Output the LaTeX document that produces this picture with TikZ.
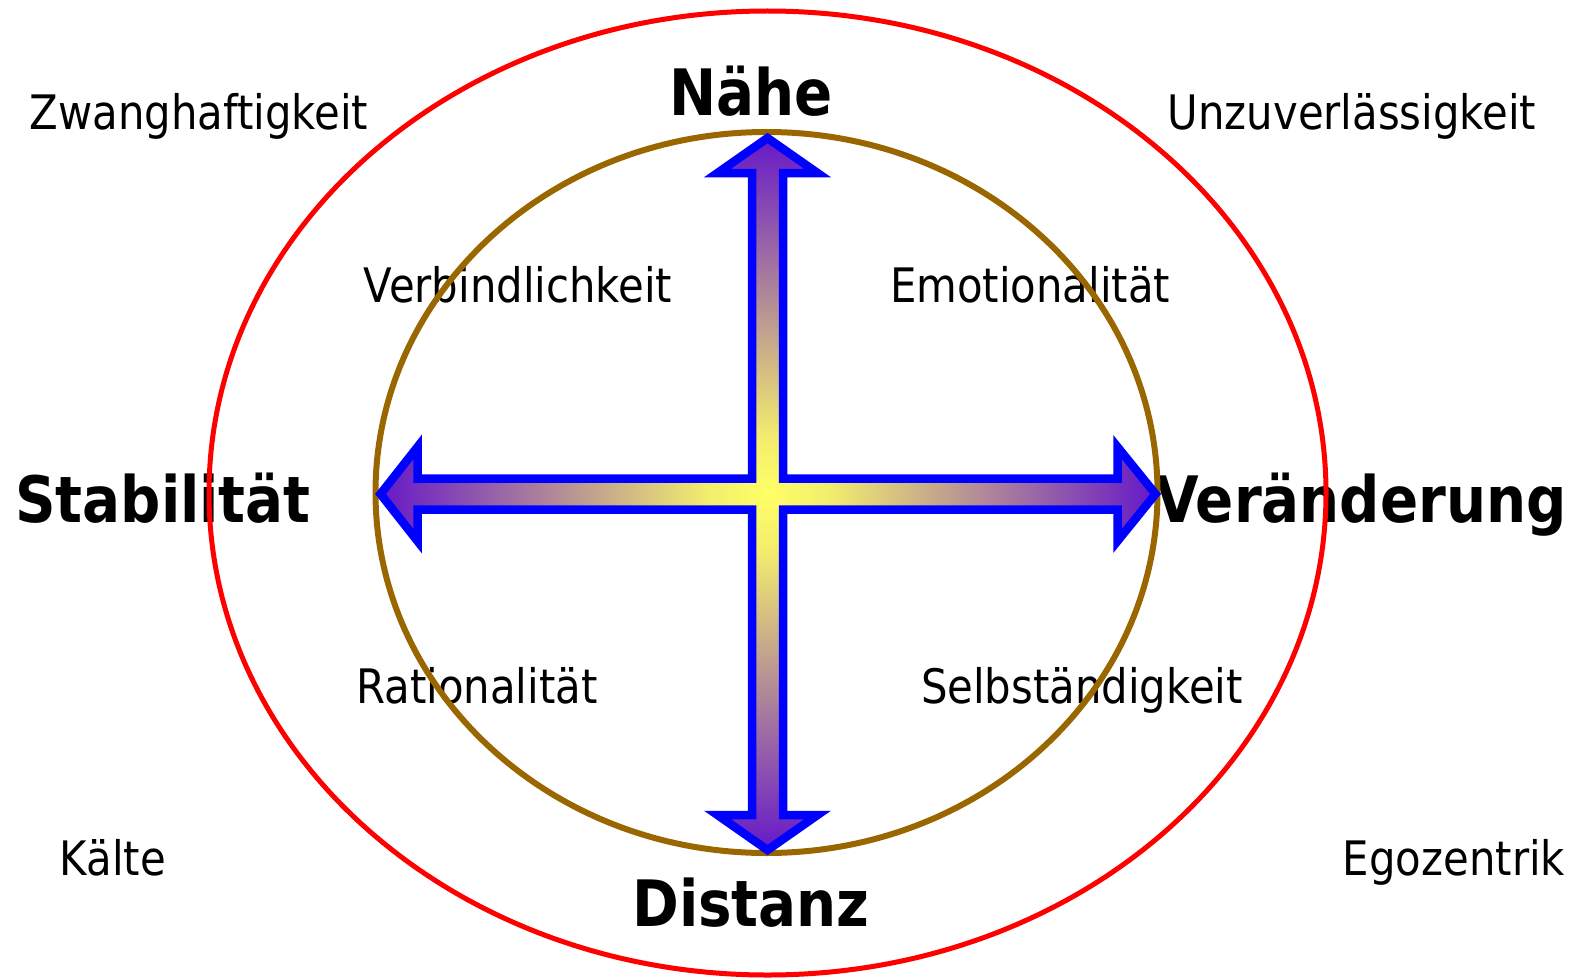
\documentclass[tikz,border=0pt]{standalone}
\usepackage{fontspec}
\setmainfont{DejaVu Sans}[FakeStretch=0.88]
\definecolor{redline}{RGB}{255,0,0}
\definecolor{brownline}{RGB}{153,102,0}
\definecolor{arrowblue}{RGB}{0,0,255}
\definecolor{shadeyellow}{RGB}{255,255,102}
\definecolor{shadepurple}{RGB}{102,24,200}
\pgfdeclareradialshading{crossshade}{\pgfpoint{0bp}{0bp}}{color(0bp)=(shadeyellow); color(4bp)=(shadeyellow!92!shadepurple); color(25bp)=(shadepurple); color(50bp)=(shadepurple)}
\tikzset{
  lbl/.style={anchor=base, inner sep=0pt, font=\fontsize{47.5}{52}\selectfont},
  biglbl/.style={anchor=base, inner sep=0pt, font=\fontsize{64}{70}\selectfont\bfseries},
  outerring/.style={draw=redline, line width=5},
  innerring/.style={draw=brownline, line width=6},
  crossarrow/.style={shading=crossshade, draw=arrowblue, line width=8.5}
}
\begin{document}
\begin{tikzpicture}[x=1pt,y=-1pt]
\useasboundingbox (0,0) rectangle (1576,979);
% labels
\node[biglbl] (naehe) at (751,116) {Nähe};
\node[biglbl] (distanz) at (751,926) {Distanz};
\node[biglbl] (stab) at (163,522) {Stabilität};
\node[biglbl] (veraend) at (1361,522) {Veränderung};
\node[lbl] (zwang) at (199,129) {Zwanghaftigkeit};
\node[lbl] (unzu) at (1352,129) {Unzuverlässigkeit};
\node[lbl] (verb) at (518,302) {Verbindlichkeit};
\node[lbl] (emo) at (1030,302) {Emotionalität};
\node[lbl] (rat) at (477,703) {Rationalität};
\node[lbl] (selb) at (1082,703) {Selbständigkeit};
\node[lbl] (kaelte) at (113,875) {Kälte};
\node[lbl] (ego) at (1454,875) {Egozentrik};
% rings
\draw[outerring] (767.5,493) ellipse [x radius=558.5, y radius=482];
\draw[innerring] (766.5,492.5) ellipse [x radius=391, y radius=360.5];
% four-way arrow
\shadedraw[crossarrow, shift={(767.5,494)}]
  (15.5,-15.5) -- (15.5,-321) -- (50,-321) -- (0,-356) -- (-50,-321) -- (-15.5,-321)
  -- (-15.5,-15.5) -- (-350,-15.5) -- (-350,-47) -- (-387,0) -- (-350,47) -- (-350,15.5)
  -- (-15.5,15.5) -- (-15.5,321) -- (-50,321) -- (0,356) -- (50,321) -- (15.5,321)
  -- (15.5,15.5) -- (350,15.5) -- (350,47) -- (388,0) -- (350,-47) -- (350,-15.5) -- cycle;
\end{tikzpicture}
\end{document}
